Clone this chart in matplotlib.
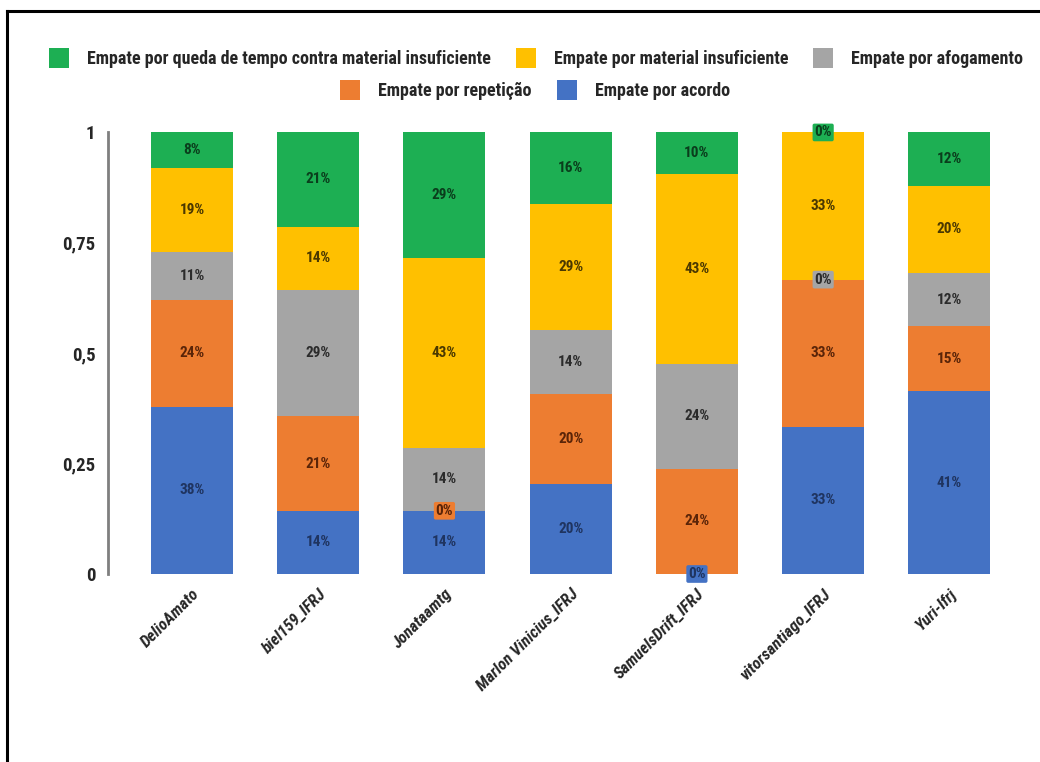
import matplotlib
matplotlib.use("Agg")
import matplotlib.pyplot as plt
from matplotlib.patches import Patch
from matplotlib.lines import Line2D
from matplotlib import font_manager
import numpy as np

players = ["DelioAmato", "biel159_IFRJ", "Jonataamtg", "Marlon Vinicius_IFRJ",
           "SamuelsDrift_IFRJ", "vitorsantiago_IFRJ", "Yuri-Ifrj"]

# share of draws per type (bottom to top of each bar)
acordo    = [0.378, 0.143, 0.143, 0.204, 0.000, 0.333, 0.414]
repeticao = [0.243, 0.214, 0.000, 0.204, 0.238, 0.333, 0.146]
afogamento = [0.108, 0.286, 0.143, 0.143, 0.238, 0.000, 0.122]
material  = [0.189, 0.143, 0.429, 0.286, 0.429, 0.333, 0.195]
queda     = [0.081, 0.214, 0.286, 0.163, 0.095, 0.000, 0.122]

series_names = ["Empate por acordo", "Empate por repetição", "Empate por afogamento",
                "Empate por material insuficiente",
                "Empate por queda de tempo contra material insuficiente"]
series_vals = [acordo, repeticao, afogamento, material, queda]
colors = ["#4472C4", "#ED7D31", "#A5A5A5", "#FFC000", "#1DAF53"]
label_colors = ["#1F3460", "#5A2408", "#2B2B2B", "#4A3800", "#0A3D1C"]

ytick_vals = [0, 0.25, 0.5, 0.75, 1]
ytick_labels = ["0", "0,25", "0,5", "0,75", "1"]

available = {f.name for f in font_manager.fontManager.ttflist}
base = "DejaVu Sans"
for cand in ["Liberation Sans Narrow", "Roboto Condensed", "Lato", "Roboto"]:
    if cand in available:
        base = cand
        break
plt.rcParams["font.family"] = [base, "DejaVu Sans"]

fig = plt.figure(figsize=(10.4, 7.62), dpi=100)
W, H = 1040, 762
ax = fig.add_axes([108 / W, 188 / H, 902 / W, 442 / H])

x = np.arange(len(players))
bottom = np.zeros(len(players))
for vals, col, lcol in zip(series_vals, colors, label_colors):
    vals = np.array(vals)
    ax.bar(x, vals, width=0.65, bottom=bottom, color=col, edgecolor="none", zorder=2)
    for xi, v, b in zip(x, vals, bottom):
        yc = b + v / 2
        txt = f"{round(v * 100):.0f}%"
        if v == 0:
            ax.text(xi, yc, txt, ha="center", va="center", fontsize=11, fontweight="bold",
                    color=lcol, zorder=4,
                    bbox=dict(boxstyle="round,pad=0.12", fc=col, ec="none"))
        else:
            ax.text(xi, yc, txt, ha="center", va="center", fontsize=11, fontweight="bold",
                    color=lcol, zorder=3)
    bottom = bottom + vals

ax.set_xlim(-0.665, 6.48)
ax.set_ylim(0, 1)
for s in ["top", "right", "bottom"]:
    ax.spines[s].set_visible(False)
ax.spines["left"].set_color("#7F7F7F")
ax.spines["left"].set_linewidth(2)
ax.set_yticks(ytick_vals)
ax.set_yticklabels(ytick_labels, fontsize=13.5, fontweight="bold", color="#262626")
ax.tick_params(axis="y", length=0, pad=9)
ax.set_xticks(x)
ax.set_xticklabels(players, rotation=45, ha="right", rotation_mode="anchor",
                   fontsize=12, fontweight="bold", style="italic", color="#262626")
ax.tick_params(axis="x", length=0, pad=9)

# legend in two centered rows
handles = [Patch(facecolor=c, edgecolor="none") for c in colors]
row1 = [4, 3, 2]
row2 = [1, 0]
common = dict(frameon=False, handlelength=1.1, handleheight=1.3, handletextpad=1.0,
              columnspacing=1.4, prop={"family": [base, "DejaVu Sans"], "weight": "bold", "size": 13},
              labelcolor="#262626")
fig.legend([handles[i] for i in row1], [series_names[i] for i in row1], loc="center",
           bbox_to_anchor=(536 / W, 1 - 58 / H), ncol=3, **common)
fig.legend([handles[i] for i in row2], [series_names[i] for i in row2], loc="center",
           bbox_to_anchor=(535 / W, 1 - 90 / H), ncol=2, **common)

# outer frame (top and left edges)
fig.add_artist(Line2D([7 / W, 1.0], [1 - 11 / H, 1 - 11 / H], color="black", lw=2.2,
                      transform=fig.transFigure))
fig.add_artist(Line2D([7 / W, 7 / W], [0, 1 - 11 / H], color="black", lw=2.2,
                      transform=fig.transFigure))

fig.savefig("out.png", dpi=100, facecolor="white")
